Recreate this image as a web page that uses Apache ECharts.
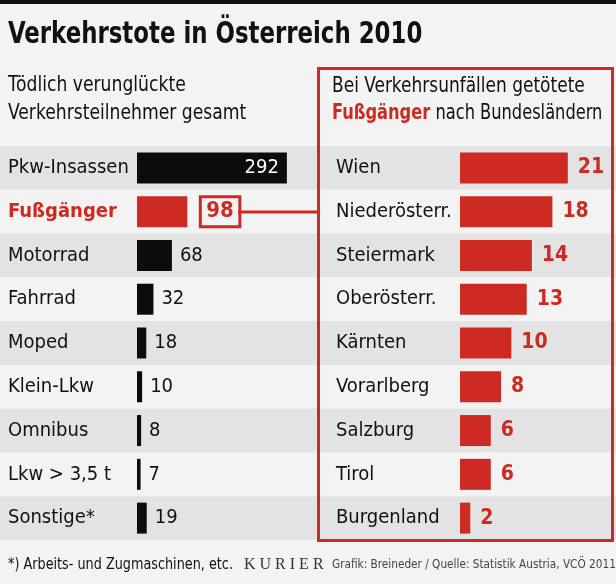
<!DOCTYPE html>
<html><head><meta charset="utf-8">
<script src="https://cdn.jsdelivr.net/npm/echarts@6/dist/echarts.min.js"></script>
<style>html,body{margin:0;padding:0;background:#f3f3f3}#c{width:616px;height:584px}</style>
</head><body><div id="c"></div>
<script>
const leftCategories = ['Pkw-Insassen','Fußgänger','Motorrad','Fahrrad','Moped','Klein-Lkw','Omnibus','Lkw > 3,5 t','Sonstige*'];
const leftValues = [292, 98, 68, 32, 18, 10, 8, 7, 19];
const rightCategories = ['Wien','Niederösterr.','Steiermark','Oberösterr.','Kärnten','Vorarlberg','Salzburg','Tirol','Burgenland'];
const rightValues = [21, 18, 14, 13, 10, 8, 6, 6, 2];

const RED = '#cc2a22';
const FONT = '"DejaVu Sans Condensed","Roboto",sans-serif';
const TOP = 146, ROWS_H = 394;

function txt(x, y, text, font, fill, sx, extra) {
  return Object.assign({type: 'text', x: x, y: y, scaleX: sx || 1, originX: 0, originY: 0,
    style: Object.assign({text: text, font: font, fill: fill, verticalAlign: 'middle', align: 'left'}, extra || {})});
}

const chart = echarts.init(document.getElementById('c'), null, {renderer:'canvas'});
chart.setOption({
  backgroundColor: '#f3f3f3',
  animation: false,
  textStyle: {fontFamily: FONT},
  grid: [
    {left: 0, right: 0, top: TOP, height: ROWS_H},
    {left: 137, width: 154, top: TOP, height: ROWS_H},
    {left: 460, width: 154, top: TOP, height: ROWS_H}
  ],
  xAxis: [
    {gridIndex: 0, type: 'value', show: false, min: 0, max: 1},
    {gridIndex: 1, type: 'value', show: false, min: 0, max: 300},
    {gridIndex: 2, type: 'value', show: false, min: 0, max: 30}
  ],
  yAxis: [
    {gridIndex: 0, type: 'category', inverse: true, data: leftCategories,
     axisLine: {show: false}, axisTick: {show: false}, axisLabel: {show: false},
     splitArea: {show: true, areaStyle: {color: ['#e3e3e3', '#f3f3f3']}}},
    {gridIndex: 1, type: 'category', inverse: true, data: leftCategories,
     axisLine: {show: false}, axisTick: {show: false},
     axisLabel: {align: 'left', margin: 129, fontSize: 20, color: '#111', fontFamily: FONT,
       formatter: v => v === 'Fußgänger' ? '{r|' + v + '}' : v,
       rich: {r: {color: RED, fontWeight: 'bold', fontSize: 20, fontFamily: FONT}}}},
    {gridIndex: 2, type: 'category', inverse: true, data: rightCategories,
     axisLine: {show: false}, axisTick: {show: false},
     axisLabel: {align: 'left', margin: 124, fontSize: 20, color: '#111', fontFamily: FONT}}
  ],
  series: [
    {type: 'bar', xAxisIndex: 1, yAxisIndex: 1, barWidth: 31,
     data: leftValues.map((v, i) => {
       const d = {value: v};
       if (i === 0) {
         d.label = {position: 'insideRight', color: '#fff', distance: 8};
       } else if (leftCategories[i] === 'Fußgänger') {
         d.itemStyle = {color: RED};
         d.label = {color: RED, fontWeight: 'bold', fontSize: 22, distance: 13,
           borderColor: RED, borderWidth: 3, padding: [5, 6, 3, 6]};
       }
       return d;
     }),
     itemStyle: {color: '#0c0c0c'},
     label: {show: true, position: 'right', distance: 8, fontSize: 20, color: '#111', fontFamily: FONT}},
    {type: 'bar', xAxisIndex: 2, yAxisIndex: 2, barWidth: 31, data: rightValues,
     itemStyle: {color: RED},
     label: {show: true, position: 'right', distance: 10, fontSize: 21, fontWeight: 'bold', color: RED, fontFamily: FONT}}
  ],
  graphic: [
    {type: 'rect', shape: {x: 0, y: 0, width: 616, height: 4}, style: {fill: '#111'}},
    txt(8, 35, 'Verkehrstote in Österreich 2010', 'bold 31px ' + FONT, '#111', 0.82),
    txt(8, 86, 'Tödlich verunglückte', '21px ' + FONT, '#111', 0.91),
    txt(8, 114, 'Verkehrsteilnehmer gesamt', '21px ' + FONT, '#111', 0.91),
    txt(332, 87, 'Bei Verkehrsunfällen getötete', '21px ' + FONT, '#111', 0.9),
    txt(332, 114, '{r|Fußgänger} nach Bundesländern', '21px ' + FONT, '#111', 0.86,
      {rich: {r: {fill: RED, fontWeight: 'bold', fontSize: 21, fontFamily: FONT}}}),
    {type: 'rect', z: 100, shape: {x: 318.5, y: 68.5, width: 294, height: 472}, style: {fill: 'none', stroke: RED, lineWidth: 3}},
    {type: 'line', z: 100, shape: {x1: 238, y1: 212, x2: 318, y2: 212}, style: {stroke: RED, lineWidth: 3}},
    txt(8, 565, '*) Arbeits- und Zugmaschinen, etc.', '16px ' + FONT, '#111', 0.89),
    txt(244, 565, 'K U R I E R', '16px "Liberation Serif", serif', '#333', 1),
    txt(332, 565, 'Grafik: Breineder / Quelle: Statistik Austria, VCÖ 2011', '13px ' + FONT, '#444', 0.9)
  ]
});
</script></body></html>
